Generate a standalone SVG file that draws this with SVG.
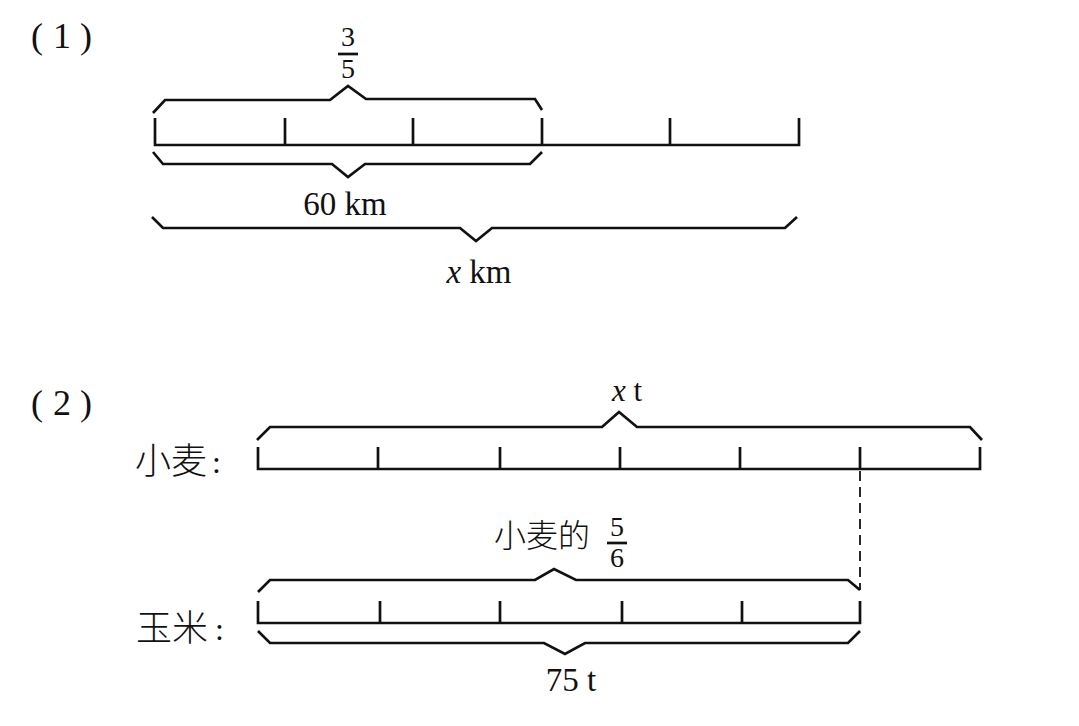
<svg xmlns="http://www.w3.org/2000/svg" width="1079" height="726" viewBox="0 0 1079 726">
<style>
.ln{fill:none;stroke:#111;stroke-width:2.7;stroke-linejoin:miter;stroke-linecap:butt}
.dash{fill:none;stroke:#111;stroke-width:1.8;stroke-dasharray:10 6}
.t{font-family:"Liberation Serif","Times New Roman",serif;fill:#111}
.c{font-family:"Noto Sans CJK SC",sans-serif;fill:#111;font-weight:300}
.i{font-style:italic}
</style>
<rect width="1079" height="726" fill="#fff"/>
<text class="t" font-size="36" y="48"><tspan x="31">(</tspan><tspan x="53">1</tspan><tspan x="80">)</tspan></text>
<text class="t" font-size="36" y="415"><tspan x="31">(</tspan><tspan x="53">2</tspan><tspan x="80">)</tspan></text>

<g id="bar1">
  <path class="ln" d="M155,118V145H799V118M285,118V145M413,118V145M542,118V145M670,118V145"/>
</g>
<g id="bar-wheat">
  <path class="ln" d="M258,447V469H980V447M378,447V469M500,447V469M620,447V469M740,447V469M860,447V469"/>
  <text class="c" x="135" y="474" font-size="36">小麦</text>
  <text class="t" x="212" y="473" font-size="32">:</text>
</g>
<g id="bar-corn">
  <path class="ln" d="M258,601V623H860V601M380,601V623M500,601V623M622,601V623M742,601V623"/>
  <text class="c" x="136" y="641" font-size="36">玉米</text>
  <text class="t" x="215" y="640" font-size="32">:</text>
</g>

<g id="connectors">
  <path class="ln" d="M153,113L165,100H330L348,86L366,99H535L542,110"/>
  <path class="ln" d="M153,152L163,164H332L348,177L365,164H530L542,152"/>
  <path class="ln" d="M152,217L163,228H460L476,241L492,228H785L797,217"/>
  <path class="ln" d="M257,440L270,427H602L619,412L637,427H970L982,440"/>
  <path class="ln" d="M258,592L270,580H535L554,569L576,580H848L860,590"/>
  <path class="ln" d="M258,631L270,643H544L565,654L585,643H848L860,631"/>
  <path class="dash" d="M860,471V590"/>
</g>

<g id="label-3-5">
  <text class="t" x="348" y="46" font-size="28" text-anchor="middle">3</text>
  <path class="ln" d="M338,54H358" stroke-width="1.8"/>
  <text class="t" x="348" y="78" font-size="28" text-anchor="middle">5</text>
</g>
<g id="label-60km"><text class="t" x="345" y="215" font-size="33" text-anchor="middle">60 km</text></g>
<g id="label-xkm"><text class="t" x="479" y="283" font-size="33" text-anchor="middle"><tspan class="i">x</tspan> km</text></g>
<g id="label-xt"><text class="t" x="627" y="401" font-size="31" text-anchor="middle"><tspan class="i">x</tspan> t</text></g>
<g id="label-5-6">
  <text class="c" x="494" y="547" font-size="32">小麦的</text>
  <text class="t" x="617" y="536" font-size="28" text-anchor="middle">5</text>
  <path class="ln" d="M607,543H627" stroke-width="1.8"/>
  <text class="t" x="617" y="567" font-size="28" text-anchor="middle">6</text>
</g>
<g id="label-75t"><text class="t" x="571" y="691" font-size="33" text-anchor="middle">75 t</text></g>
</svg>
